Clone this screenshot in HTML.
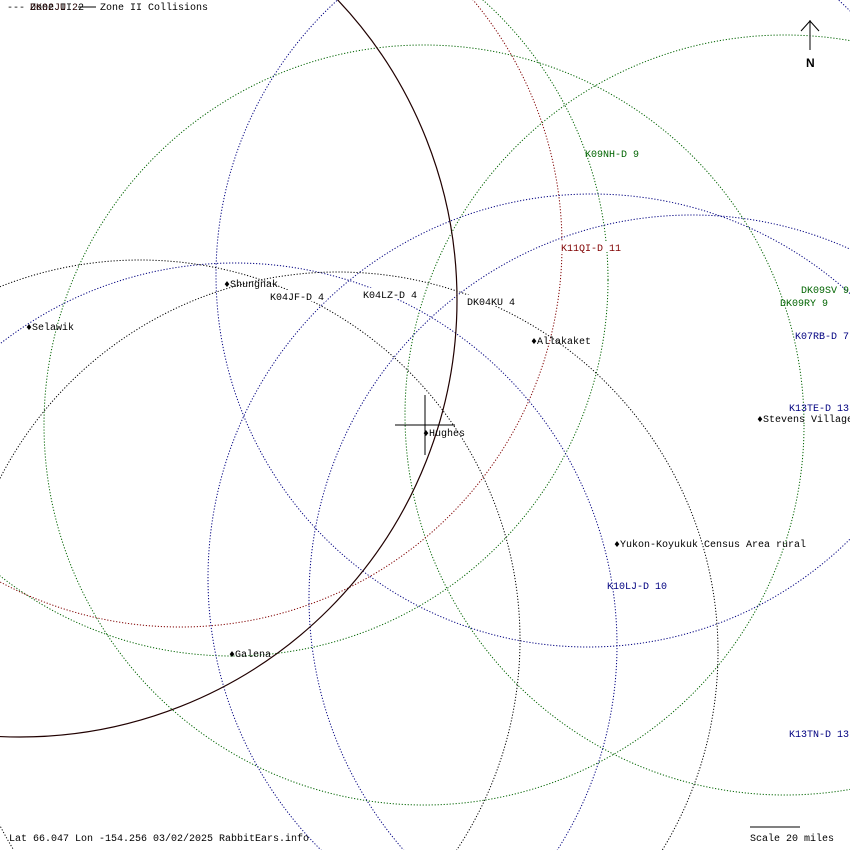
<!DOCTYPE html>
<html><head><meta charset="utf-8"><style>
html,body{margin:0;padding:0;background:#fff;width:850px;height:850px;overflow:hidden;}
svg{display:block;}
text{font-family:"Liberation Mono",monospace;font-size:10px;}
</style></head><body>
<svg width="850" height="850" viewBox="0 0 850 850" xmlns="http://www.w3.org/2000/svg">
<rect width="850" height="850" fill="#fff"/>
<g fill="none" stroke-width="1" stroke-dasharray="1.2 1.8">
<circle cx="424" cy="425" r="380" stroke="#006400"/>
<circle cx="785" cy="415" r="380" stroke="#006400"/>
<circle cx="232" cy="280" r="376" stroke="#006400"/>
<circle cx="180" cy="245" r="382" stroke="#800000"/>
<circle cx="588" cy="275" r="372" stroke="#000080"/>
<circle cx="592" cy="578" r="384" stroke="#000080"/>
<circle cx="692" cy="598" r="383" stroke="#000080"/>
<circle cx="235" cy="645" r="382" stroke="#000080"/>
<circle cx="140" cy="640" r="380" stroke="#000"/>
<circle cx="338" cy="652" r="380" stroke="#000"/>
</g>
<circle cx="20" cy="300" r="437" fill="none" stroke="#200000" stroke-width="1.2"/>
<line x1="425" y1="395" x2="425" y2="455" stroke="#000"/>
<line x1="395" y1="425" x2="455" y2="425" stroke="#000"/>
<line x1="810" y1="20" x2="810" y2="50" stroke="#000"/>
<line x1="801" y1="31" x2="810" y2="21" stroke="#000"/>
<line x1="819" y1="31" x2="810" y2="21" stroke="#000"/>
<text x="806" y="67" style="font-family:'Liberation Sans',sans-serif;font-weight:bold;font-size:12px">N</text>
<text x="7" y="10" fill="#000">---</text>
<text x="30" y="10" fill="#000">Zone II 2</text>
<text x="30" y="10" fill="#200">DK02JU 2</text>
<line x1="78" y1="7" x2="96" y2="7" stroke="#000"/>
<text x="100" y="10" fill="#000">Zone II Collisions</text>
<g>
<text x="585" y="157" fill="#006400">K09NH-D 9</text>
<rect x="560" y="241" width="62" height="11" fill="#fff"/>
<text x="561" y="251" fill="#800000">K11QI-D 11</text>
<rect x="270" y="290" width="56" height="11" fill="#fff"/>
<text x="270" y="300" fill="#000">K04JF-D 4</text>
<rect x="363" y="288" width="56" height="11" fill="#fff"/>
<text x="363" y="298" fill="#000">K04LZ-D 4</text>
<rect x="467" y="295" width="50" height="11" fill="#fff"/>
<text x="467" y="305" fill="#000">DK04KU 4</text>
<text x="801" y="293" fill="#006400">DK09SV 9</text>
<text x="780" y="306" fill="#006400">DK09RY 9</text>
<text x="795" y="339" fill="#000080">K07RB-D 7</text>
<text x="789" y="411" fill="#000080">K13TE-D 13</text>
<text x="607" y="589" fill="#000080">K10LJ-D 10</text>
<text x="789" y="737" fill="#000080">K13TN-D 13</text>
</g>
<g fill="#000">
<text x="224" y="287">♦Shungnak</text>
<text x="26" y="330">♦Selawik</text>
<text x="531" y="344">♦Allakaket</text>
<text x="423" y="436">♦Hughes</text>
<text x="614" y="547">♦Yukon-Koyukuk Census Area rural</text>
<text x="757" y="422">♦Stevens Village</text>
<text x="229" y="657">♦Galena</text>
</g>
<text x="9" y="841" fill="#000">Lat 66.047 Lon -154.256 03/02/2025 RabbitEars.info</text>
<line x1="750" y1="827" x2="800" y2="827" stroke="#000"/>
<text x="750" y="841" fill="#000">Scale 20 miles</text>
</svg>
</body></html>
